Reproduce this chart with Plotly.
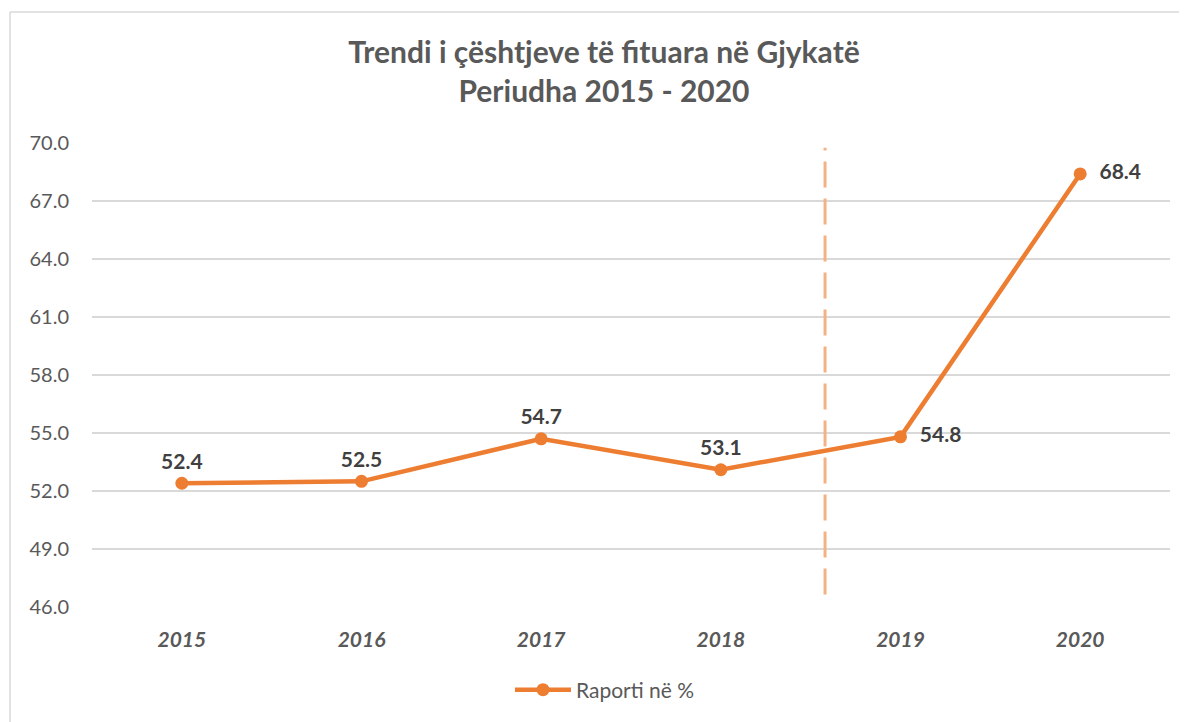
import plotly.graph_objects as go

years = ["2015", "2016", "2017", "2018", "2019", "2020"]
ratio = [52.4, 52.5, 54.7, 53.1, 54.8, 68.4]
label_pos = ["top center", "top center", "top center", "top center", "middle right", "middle right"]
y_ticks = [46.0, 49.0, 52.0, 55.0, 58.0, 61.0, 64.0, 67.0, 70.0]

FONT = "Lato, 'Open Sans', sans-serif"
ORANGE = "#ED7D31"

OFF = 8  # browser body margin
W, H = 1187 - OFF, 722 - OFF
L, R, T, B = 92 - OFF, 17, 143 - OFF, 115
pw, ph = W - L - R, H - T - B

def px_to_paper_x(px):
    return (px - OFF - L) / pw

def px_to_paper_y(py):
    return (H - B - (py - OFF)) / ph

fig = go.Figure()
fig.add_trace(go.Scatter(
    x=years, y=ratio, mode="lines+markers+text",
    name="Raporti në %",
    line=dict(color=ORANGE, width=4.5),
    marker=dict(color=ORANGE, size=13),
    text=[f"  {v:.1f}" if p == "middle right" else f"{v:.1f}" for v, p in zip(ratio, label_pos)],
    textposition=label_pos,
    textfont=dict(family=FONT, size=21, color="#404040", weight="bold"),
    cliponaxis=False,
))

# vertical dashed separator between 2018 and 2019
fig.add_shape(type="line", xref="x", yref="y",
              x0=3.58, x1=3.58, y0=46.65, y1=69.75,
              line=dict(color="#F4B183", width=3, dash="26px,11px"))

# chart border (left and top visible)
fig.add_shape(type="line", xref="paper", yref="paper",
              x0=px_to_paper_x(10), x1=px_to_paper_x(10),
              y0=px_to_paper_y(730), y1=px_to_paper_y(12),
              line=dict(color="#D9D9D9", width=1.5))
fig.add_shape(type="line", xref="paper", yref="paper",
              x0=px_to_paper_x(10), x1=px_to_paper_x(1195),
              y0=px_to_paper_y(12), y1=px_to_paper_y(12),
              line=dict(color="#D9D9D9", width=1.5))

fig.update_layout(
    width=W, height=H,
    margin=dict(l=L, r=R, t=T, b=B),
    paper_bgcolor="white", plot_bgcolor="white",
    title=dict(
        text="Trendi i çështjeve të fituara në Gjykatë<br>Periudha 2015 - 2020",
        x=(604 - OFF) / W, xanchor="center", y=1 - (63 - OFF) / H, yanchor="middle",
        font=dict(family=FONT, size=30, color="#595959", weight="bold"),
    ),
    xaxis=dict(
        type="category", range=[-0.5, 5.5],
        showgrid=False, showline=False, zeroline=False,
        tickfont=dict(family=FONT, size=21, color="#595959", weight="bold", style="italic"),
        ticks="", ticklabelstandoff=18,
    ),
    yaxis=dict(
        range=[46, 70], tickvals=y_ticks, ticktext=[f"{v:.1f}" for v in y_ticks],
        showgrid=True, gridcolor="#D9D9D9", gridwidth=1.5,
        zeroline=False, showline=False,
        tickfont=dict(family=FONT, size=20, color="#595959"),
        ticks="", ticklabelstandoff=22,
    ),
    showlegend=True,
    legend=dict(
        orientation="h", x=px_to_paper_x(605), xanchor="center",
        y=px_to_paper_y(690), yanchor="middle",
        itemwidth=56,
        font=dict(family=FONT, size=21, color="#595959"),
    ),
)

fig.write_html("out.html")
